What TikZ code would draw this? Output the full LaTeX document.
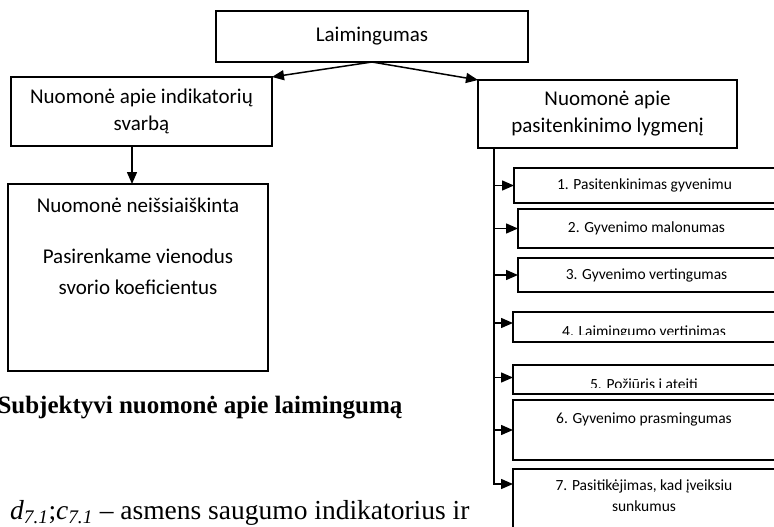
\documentclass[tikz,border=0pt]{standalone}
\usepackage{fontspec}
\setmainfont{Liberation Serif}
\newfontfamily\boxfont{Carlito}
\usetikzlibrary{positioning,calc,arrows.meta}

\begin{document}
\begin{tikzpicture}[
x=1pt,y=-1pt,
box/.style={
draw,
line width=1.5pt,
align=center,
inner sep=0pt,
outer sep=0pt,
font=\boxfont\fontsize{21}{27}\selectfont
},
subbox/.style={
draw,
line width=1.5pt,
align=center,
inner sep=0pt,
outer sep=0pt,
font=\boxfont\fontsize{15.5}{21}\selectfont
},
subtext/.style={
inner sep=0pt,
align=center,
font=\boxfont\fontsize{15.5}{21}\selectfont
},
arrow/.style={
-{Triangle[length=12pt,width=10pt]},
line width=1.5pt
}
]

\useasboundingbox (0,0) rectangle (774,527);

% Top

\node (laim) [box, minimum width=312pt, minimum height=51pt] at (372,36.5)
{Laimingumas};

\node (indik) [box, minimum width=261pt, minimum height=69pt, below left=15pt and 100pt of laim.south]
{Nuomonė apie indikatorių\\svarbą};

\node (lygm) [box, minimum width=259pt, minimum height=68pt, below right=18pt and 106pt of laim.south]
{Nuomonė apie\\pasitenkinimo lygmenį};

\draw[arrow] (laim.south) -- (indik.north east);
\draw[arrow] (laim.south) -- (lygm.north west);


% Left branch

\node (neis) [box, minimum width=260pt, minimum height=187pt, below=38pt of indik, xshift=-3.5pt]
{Nuomonė neišsiaiškinta\\[24pt]Pasirenkame vienodus\\[4pt]svorio koeficientus\\[36pt]~};

\draw[arrow] ([xshift=-9.5pt]indik.south) -- ([xshift=-6pt]neis.north);


% Right branch

\node (sub1) [subbox, minimum width=261pt, minimum height=35pt, below right=20pt and 36pt of lygm.south west]
{1. Pasitenkinimas gyvenimu};

\node (sub2) [subbox, minimum width=257pt, minimum height=39pt, below left=6pt and 0pt of sub1.south east]
{2. Gyvenimo malonumas};

\node (sub3) [subbox, minimum width=257pt, minimum height=34pt, below left=10pt and 0pt of sub2.south east]
{3. Gyvenimo vertingumas};

\node (sub4) [subbox, minimum width=262pt, minimum height=30pt, below left=20pt and 0pt of sub3.south east] {};
\begin{scope}
\clip ([yshift=8pt]sub4.south west) rectangle (sub4.north east);
\node (txt4) [subtext, anchor=base] at ([yshift=6pt]sub4.south) {4. Laimingumo vertinimas};
\end{scope}

\node (sub5) [subbox, minimum width=262pt, minimum height=29pt, below left=23pt and 0pt of sub4.south east] {};
\begin{scope}
\clip ([yshift=7pt]sub5.south west) rectangle (sub5.north east);
\node (txt5) [subtext, anchor=base] at ([yshift=5pt]sub5.south) {5. Požiūris į ateitį};
\end{scope}

\node (sub6) [subbox, minimum width=262pt, text height=23pt, text depth=37pt, below left=6pt and 0pt of sub5.south east]
{6. Gyvenimo prasmingumas};

\node (sub7) [subbox, minimum width=262pt, minimum height=62pt, below left=9pt and 0pt of sub6.south east] {};
\node (txt7) [subtext, anchor=north] at ([yshift=-11pt]sub7.north)
{7. Pasitikėjimas, kad įveiksiu\\sunkumus};

\coordinate (trunk) at ([xshift=16pt]lygm.south west);

\draw[arrow] (trunk) |- ($(sub7.west)+(0,-16)$);
\foreach \i/\s in {1/0,2/0,3/0,4/4,5/2,6/0}
\draw[arrow] ($(trunk |- sub\i.west)+(0,-\s)$) -- ($(sub\i.west)+(0,-\s)$);


% Text below

\node (capt) [anchor=base west, font=\bfseries\fontsize{25}{30}\selectfont] at (-6,413)
{Subjektyvi nuomonė apie laimingumą};

\node (formula) [anchor=base east, font=\fontsize{27.5}{32}\selectfont] at (473,519)
{\textit{d}\textsubscript{\textit{7.1}};\textit{c}\textsubscript{\textit{7.1}} – asmens saugumo indikatorius ir};

\end{tikzpicture}
\end{document}
